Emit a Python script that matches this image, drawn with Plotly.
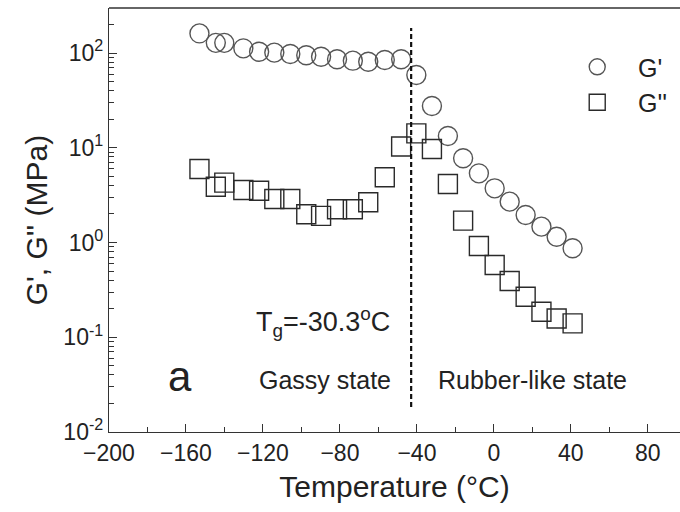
import plotly.graph_objects as go

# Data
temperature = [-153.0, -144.5, -140.1, -130.2, -122.0, -114.1, -105.8, -97.5, -89.8, -81.5,
               -73.3, -65.3, -56.7, -48.2, -40.3, -32.2, -23.9, -16.0, -7.8, 0.4,
               8.2, 16.5, 24.7, 32.6, 40.9]
g_storage = [161, 128, 128, 112, 103, 101, 97.6, 94.6, 91.4, 85.9,
             83.0, 80.9, 84.4, 85.9, 58.7, 27.6, 13.3, 7.74, 5.37, 3.73,
             2.70, 1.95, 1.47, 1.15, 0.87]
g_loss = [5.97, 3.88, 4.28, 3.58, 3.52, 2.88, 2.88, 1.99, 1.91, 2.24,
          2.24, 2.66, 4.88, 10.3, 14.2, 9.7, 4.14, 1.70, 0.918, 0.578,
          0.392, 0.268, 0.186, 0.158, 0.140]

x_ticks = [-200, -160, -120, -80, -40, 0, 40, 80]
x_minor = [-180, -140, -100, -60, -20, 20, 60, 100]
y_ticks = [0.01, 0.1, 1, 10, 100]
y_ticktext = ["10<sup>-2</sup>", "10<sup>-1</sup>", "10<sup>0</sup>", "10<sup>1</sup>", "10<sup>2</sup>"]
y_minor = [m * d for d in [0.01, 0.1, 1, 10, 100] for m in range(2, 10)]
tg_line = -43.0

FONT = "Liberation Sans, Arial, sans-serif"
INK = "#333333"
TXT = "#222222"
NB = "\u00a0"

fig = go.Figure()
fig.add_trace(go.Scatter(
    x=temperature, y=g_storage, mode="markers", name=NB * 3 + "G'",
    marker=dict(symbol="circle-open", size=19, color="#555555", line=dict(width=1.4, color="#555555")),
))
fig.add_trace(go.Scatter(
    x=temperature, y=g_loss, mode="markers", name=NB * 3 + "G''",
    marker=dict(symbol="square-open", size=19, color="#2a2a2a", line=dict(width=1.4, color="#2a2a2a")),
))

fig.update_layout(
    width=680, height=512,
    margin=dict(l=109, r=0, t=8, b=80),
    paper_bgcolor="white", plot_bgcolor="white",
    font=dict(family=FONT, color=TXT, size=23),
    showlegend=True,
    legend=dict(x=0.82, y=0.915, xanchor="left", yanchor="top",
                font=dict(size=25, color=TXT), bgcolor="rgba(0,0,0,0)",
                itemsizing="trace", tracegroupgap=2),
    xaxis=dict(
        range=[-200, 96.7], showline=True, linecolor=INK, linewidth=1.3,
        showgrid=False, zeroline=False,
        tickmode="array", tickvals=x_ticks, ticks="inside", ticklen=8, tickwidth=1.2, tickcolor=INK,
        tickfont=dict(size=23, color=TXT),
        minor=dict(tickmode="array", tickvals=x_minor, ticks="inside", ticklen=5, tickwidth=1.2, tickcolor=INK),
        title=dict(text="Temperature (°C)", font=dict(size=30, color=TXT), standoff=11),
    ),
    yaxis=dict(
        type="log", range=[-2, 2.475], showline=True, linecolor=INK, linewidth=1.3,
        showgrid=False, zeroline=False,
        tickmode="array", tickvals=y_ticks, ticktext=y_ticktext,
        ticks="inside", ticklen=8, tickwidth=1.2, tickcolor=INK,
        tickfont=dict(size=23, color=TXT),
        minor=dict(tickmode="array", tickvals=y_minor, ticks="inside", ticklen=5, tickwidth=1.2, tickcolor=INK),
        title=dict(text="G', G'' (MPa)", font=dict(size=30, color=TXT), standoff=6),
    ),
    shapes=[
        dict(type="line", xref="paper", yref="paper", x0=0, x1=1, y0=1, y1=1,
             line=dict(color=INK, width=1.3)),
        dict(type="line", xref="x", yref="paper", x0=tg_line, x1=tg_line, y0=0.059, y1=0.953,
             line=dict(color="#111111", width=2.2, dash="5px,3px")),
    ],
    annotations=[
        dict(x=-89, y=0.259, xref="x", yref="paper", xanchor="center", yanchor="middle", showarrow=False,
             text="T<sub>g</sub>=-30.3<sup>o</sup>C", font=dict(size=27, color=TXT)),
        dict(x=-163, y=0.132, xref="x", yref="paper", xanchor="center", yanchor="middle", showarrow=False,
             text="a", font=dict(size=42, color=TXT)),
        dict(x=-88, y=0.1226, xref="x", yref="paper", xanchor="center", yanchor="middle", showarrow=False,
             text="Gassy state", font=dict(size=25, color=TXT)),
        dict(x=20, y=0.1226, xref="x", yref="paper", xanchor="center", yanchor="middle", showarrow=False,
             text="Rubber-like state", font=dict(size=25, color=TXT)),
    ],
)

fig.write_html("out.html")
